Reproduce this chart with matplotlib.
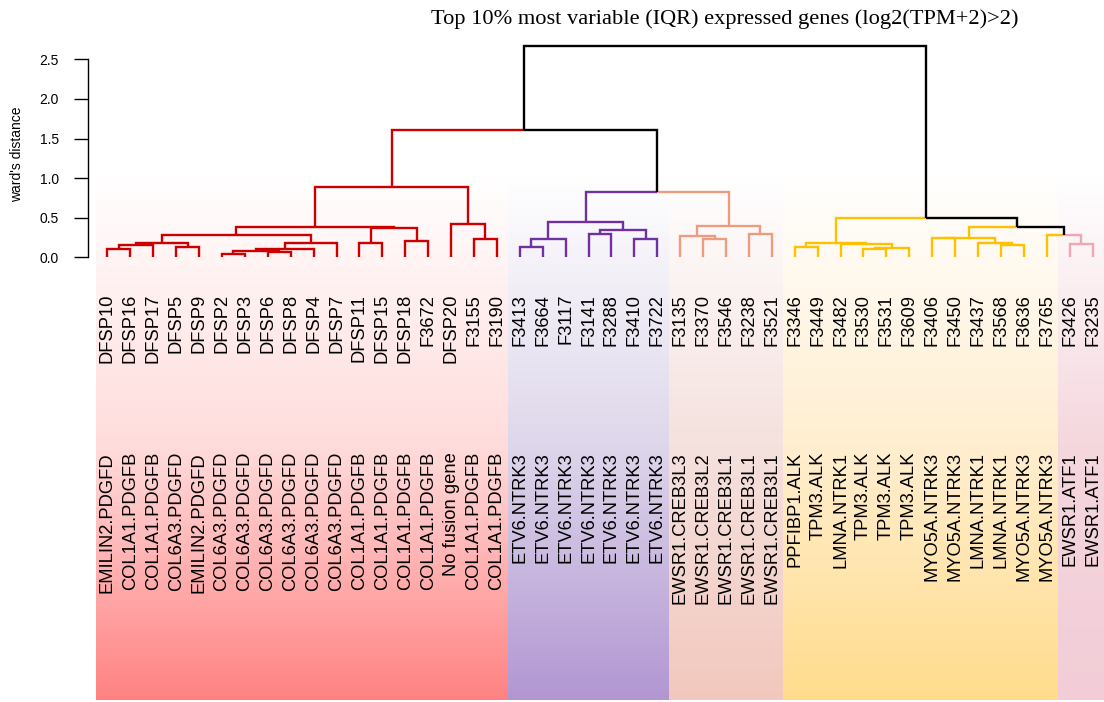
import numpy as np
import matplotlib
matplotlib.use("Agg")
import matplotlib.pyplot as plt

# ---------------- data ----------------
samples = ["DFSP10", "DFSP16", "DFSP17", "DFSP5", "DFSP9", "DFSP2", "DFSP3", "DFSP6",
           "DFSP8", "DFSP4", "DFSP7", "DFSP11", "DFSP15", "DFSP18", "F3672", "DFSP20",
           "F3155", "F3190",
           "F3413", "F3664", "F3117", "F3141", "F3288", "F3410", "F3722",
           "F3135", "F3370", "F3546", "F3238", "F3521",
           "F3346", "F3449", "F3482", "F3530", "F3531", "F3609", "F3406", "F3450",
           "F3437", "F3568", "F3636", "F3765",
           "F3426", "F3235"]

fusions = ["EMILIN2.PDGFD", "COL1A1.PDGFB", "COL1A1.PDGFB", "COL6A3.PDGFD", "EMILIN2.PDGFD",
           "COL6A3.PDGFD", "COL6A3.PDGFD", "COL6A3.PDGFD", "COL6A3.PDGFD", "COL6A3.PDGFD",
           "COL6A3.PDGFD", "COL1A1.PDGFB", "COL1A1.PDGFB", "COL1A1.PDGFB", "COL1A1.PDGFB",
           "No fusion gene", "COL1A1.PDGFB", "COL1A1.PDGFB",
           "ETV6.NTRK3", "ETV6.NTRK3", "ETV6.NTRK3", "ETV6.NTRK3", "ETV6.NTRK3",
           "ETV6.NTRK3", "ETV6.NTRK3",
           "EWSR1.CREB3L3", "EWSR1.CREB3L2", "EWSR1.CREB3L1", "EWSR1.CREB3L1", "EWSR1.CREB3L1",
           "PPFIBP1.ALK", "TPM3.ALK", "LMNA.NTRK1", "TPM3.ALK", "TPM3.ALK", "TPM3.ALK",
           "MYO5A.NTRK3", "MYO5A.NTRK3", "LMNA.NTRK1", "LMNA.NTRK1", "MYO5A.NTRK3",
           "MYO5A.NTRK3",
           "EWSR1.ATF1", "EWSR1.ATF1"]

group_names = ["red", "purple", "salmon", "yellow", "pink"]
group_sizes = [18, 7, 5, 12, 2]

# merges: (child_a, child_b, height); str = leaf, int = earlier merge index
merges = [
    ("DFSP10", "DFSP16", 0.107),   # 0
    (0, "DFSP17", 0.155),          # 1
    ("DFSP5", "DFSP9", 0.132),     # 2
    (1, 2, 0.182),                 # 3
    ("DFSP2", "DFSP3", 0.042),     # 4
    ("DFSP6", "DFSP8", 0.068),     # 5
    (4, 5, 0.075),                 # 6
    (6, "DFSP4", 0.100),           # 7
    (7, "DFSP7", 0.177),           # 8
    (3, 8, 0.285),                 # 9
    ("DFSP11", "DFSP15", 0.185),   # 10
    ("DFSP18", "F3672", 0.210),    # 11
    (10, 11, 0.375),               # 12
    (9, 12, 0.380),                # 13
    ("F3155", "F3190", 0.235),     # 14
    ("DFSP20", 14, 0.425),         # 15
    (13, 15, 0.884),               # 16
    ("F3413", "F3664", 0.130),     # 17
    (17, "F3117", 0.235),          # 18
    ("F3141", "F3288", 0.290),     # 19
    ("F3410", "F3722", 0.235),     # 20
    (19, 20, 0.340),               # 21
    (18, 21, 0.440),               # 22
    ("F3370", "F3546", 0.235),     # 23
    ("F3135", 23, 0.265),          # 24
    ("F3238", "F3521", 0.290),     # 25
    (24, 25, 0.395),               # 26
    (22, 26, 0.824),               # 27
    (16, 27, 1.607),               # 28
    ("F3346", "F3449", 0.134),     # 29
    ("F3530", "F3531", 0.105),     # 30
    (30, "F3609", 0.115),          # 31
    ("F3482", 31, 0.164),          # 32
    (29, 32, 0.185),               # 33
    ("F3568", "F3636", 0.155),     # 34
    ("F3437", 34, 0.185),          # 35
    ("F3406", "F3450", 0.240),     # 36
    (36, 35, 0.245),               # 37
    ("F3426", "F3235", 0.164),     # 38
    ("F3765", 38, 0.280),          # 39
    (37, 39, 0.387),               # 40
    (33, 40, 0.492),               # 41
    (28, 41, 2.670),               # 42
]

title = "Top 10% most variable (IQR) expressed genes (log2(TPM+2)>2)"
y_ticks = [0.0, 0.5, 1.0, 1.5, 2.0, 2.5]
y_label = "ward's distance"

# ---------------- style ----------------
line_colors = {"red": "#CC0000", "purple": "#7030A0", "salmon": "#EE9C80",
               "yellow": "#FFC000", "pink": "#F2A5B2", "mixed": "#000000"}
band_mid = {"red": (255, 220, 220), "purple": (222, 215, 235), "salmon": (245, 225, 222),
            "yellow": (255, 238, 208), "pink": (245, 215, 222)}
band_bottom = {"red": (255, 130, 130), "purple": (178, 150, 210), "salmon": (242, 200, 190),
               "yellow": (255, 220, 140), "pink": (242, 205, 215)}

W, H, DPI = 1104, 702, 100
Y0_PX, PX_PER_UNIT = 257.3, 79.2


def h_of_px(p):
    return (Y0_PX - p) / PX_PER_UNIT


plt.rcParams["font.family"] = ["Liberation Sans", "DejaVu Sans"]
fig = plt.figure(figsize=(W / DPI, H / DPI), dpi=DPI)
fig.patch.set_facecolor("white")
ax = fig.add_axes([96 / W, 0, 1 - 96 / W, 1])
ax.set_xlim(-0.5, len(samples) - 0.5)
ax.set_ylim(h_of_px(H), h_of_px(0))

# group of each leaf
leaf_group = []
for g, n in zip(group_names, group_sizes):
    leaf_group += [g] * n
leaf_index = {s: i for i, s in enumerate(samples)}

# ---------------- background bands (white at top -> colour at bottom) ----------------
n_rows = 400
px_rows = np.linspace(175, 700, n_rows)   # row 0 = top
start = 0
for g, n in zip(group_names, group_sizes):
    mid = np.array(band_mid[g]) / 255.0
    bot = np.array(band_bottom[g]) / 255.0
    white = np.ones(3)
    img = np.zeros((n_rows, 1, 3))
    for k, p in enumerate(px_rows):
        if p <= 445:
            t = (p - 175) / (445 - 175)
            c = white + (mid - white) * t
        else:
            t = (p - 445) / (700 - 445)
            c = mid + (bot - mid) * t
        img[k, 0, :] = c
    ax.imshow(img, origin="upper",
              extent=[start - 0.5, start + n - 0.5, h_of_px(700), h_of_px(175)],
              aspect="auto", interpolation="bilinear", zorder=0)
    start += n

# ---------------- dendrogram ----------------
node_x, node_h, node_leaves = {}, {}, {}


def key_of(c):
    return ("leaf", c) if isinstance(c, str) else ("node", c)


for s in samples:
    node_x[("leaf", s)] = leaf_index[s]
    node_h[("leaf", s)] = 0.0
    node_leaves[("leaf", s)] = {leaf_group[leaf_index[s]]}

for i, (a, b, h) in enumerate(merges):
    ka, kb = key_of(a), key_of(b)
    k = ("node", i)
    node_x[k] = (node_x[ka] + node_x[kb]) / 2.0
    node_h[k] = h
    node_leaves[k] = node_leaves[ka] | node_leaves[kb]


def color_of(k):
    gs = node_leaves[k]
    return line_colors[next(iter(gs))] if len(gs) == 1 else line_colors["mixed"]


for i, (a, b, h) in enumerate(merges):
    k = ("node", i)
    for c in (a, b):
        kc = key_of(c)
        ax.plot([node_x[kc], node_x[kc], node_x[k]], [node_h[kc], h, h],
                color=color_of(kc), lw=1.7, solid_capstyle="butt",
                solid_joinstyle="miter", zorder=3)

# ---------------- labels ----------------
for i, (s, f) in enumerate(zip(samples, fusions)):
    ax.text(i, h_of_px(294), s, rotation=90, ha="center", va="top", fontsize=13.2,
            color="black", zorder=4)
    ax.text(i, h_of_px(452), f, rotation=90, ha="center", va="top", fontsize=13.2,
            color="black", zorder=4)

# ---------------- axis ----------------
for side in ("top", "right", "bottom"):
    ax.spines[side].set_visible(False)
ax.spines["left"].set_position(("outward", 8 * 72 / DPI))
ax.spines["left"].set_bounds(0, 2.5)
ax.spines["left"].set_linewidth(1.0)
ax.set_xticks([])
ax.set_yticks(y_ticks)
ax.set_yticklabels([f"{v:.1f}" for v in y_ticks])
ax.tick_params(axis="y", length=10, width=1.0, pad=11, labelsize=10)

fig.text(17 / W, 1 - 154 / H, y_label, rotation=90, ha="center", va="center", fontsize=10)
fig.text(725 / W, 1 - 19 / H, title, ha="center", va="center", fontsize=16.1,
         family=["Liberation Serif", "DejaVu Serif"])

fig.savefig("out.png", dpi=DPI, facecolor="white")
